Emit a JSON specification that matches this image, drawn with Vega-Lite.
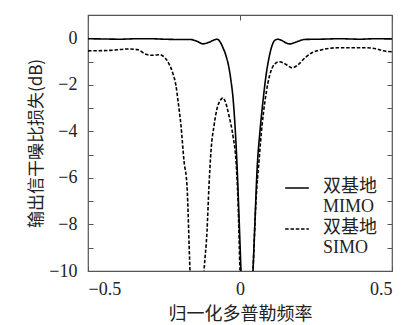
{
  "$schema": "https://vega.github.io/schema/vega-lite/v6.json",
  "autosize": "none",
  "width": 304,
  "height": 256,
  "padding": {"left": 88, "top": 15, "right": 18, "bottom": 54},
  "background": "white",
  "config": {
    "view": {"stroke": "#555555", "strokeWidth": 1.2},
    "font": "Liberation Serif, Noto Sans CJK SC",
    "axis": {
      "domain": false,
      "grid": false,
      "tickColor": "#555555",
      "tickSize": -5,
      "labelFont": "Liberation Serif",
      "labelFontSize": 17,
      "labelColor": "#222222",
      "titleFont": "Noto Sans CJK SC",
      "titleFontWeight": "normal",
      "titleFontSize": 18,
      "titleColor": "#222222"
    }
  },
  "data": {
    "values": [
      {"x": -0.5, "y": -0.02, "series": "MIMO"},
      {"x": -0.45, "y": -0.03, "series": "MIMO"},
      {"x": -0.3947, "y": -0.04, "series": "MIMO"},
      {"x": -0.34, "y": -0.02, "series": "MIMO"},
      {"x": -0.2961, "y": -0.02, "series": "MIMO"},
      {"x": -0.25, "y": -0.04, "series": "MIMO"},
      {"x": -0.2138, "y": -0.05, "series": "MIMO"},
      {"x": -0.1645, "y": -0.05, "series": "MIMO"},
      {"x": -0.1414, "y": -0.13, "series": "MIMO"},
      {"x": -0.1217, "y": -0.24, "series": "MIMO"},
      {"x": -0.102, "y": -0.17, "series": "MIMO"},
      {"x": -0.0822, "y": -0.06, "series": "MIMO"},
      {"x": -0.0757, "y": -0.04, "series": "MIMO"},
      {"x": -0.0658, "y": -0.15, "series": "MIMO"},
      {"x": -0.0559, "y": -0.41, "series": "MIMO"},
      {"x": -0.0461, "y": -0.75, "series": "MIMO"},
      {"x": -0.0362, "y": -1.27, "series": "MIMO"},
      {"x": -0.0296, "y": -1.83, "series": "MIMO"},
      {"x": -0.023, "y": -2.56, "series": "MIMO"},
      {"x": -0.0164, "y": -3.76, "series": "MIMO"},
      {"x": -0.0099, "y": -5.4, "series": "MIMO"},
      {"x": -0.0033, "y": -7.63, "series": "MIMO"},
      {"x": 0.0033, "y": -10, "series": "MIMO"},
      {"x": 0.023, "y": -16, "series": "MIMO"},
      {"x": 0.0428, "y": -10, "series": "MIMO"},
      {"x": 0.0493, "y": -7.85, "series": "MIMO"},
      {"x": 0.0559, "y": -5.7, "series": "MIMO"},
      {"x": 0.0658, "y": -3.98, "series": "MIMO"},
      {"x": 0.0757, "y": -2.69, "series": "MIMO"},
      {"x": 0.0855, "y": -1.61, "series": "MIMO"},
      {"x": 0.0954, "y": -0.84, "series": "MIMO"},
      {"x": 0.1053, "y": -0.32, "series": "MIMO"},
      {"x": 0.1151, "y": -0.08, "series": "MIMO"},
      {"x": 0.125, "y": -0.04, "series": "MIMO"},
      {"x": 0.1382, "y": -0.1, "series": "MIMO"},
      {"x": 0.1513, "y": -0.2, "series": "MIMO"},
      {"x": 0.1645, "y": -0.24, "series": "MIMO"},
      {"x": 0.1809, "y": -0.18, "series": "MIMO"},
      {"x": 0.1974, "y": -0.1, "series": "MIMO"},
      {"x": 0.2138, "y": -0.05, "series": "MIMO"},
      {"x": 0.2632, "y": -0.04, "series": "MIMO"},
      {"x": 0.3289, "y": -0.02, "series": "MIMO"},
      {"x": 0.3947, "y": -0.04, "series": "MIMO"},
      {"x": 0.4441, "y": -0.02, "series": "MIMO"},
      {"x": 0.5, "y": -0.03, "series": "MIMO"},

      {"x": -0.5, "y": -0.54, "series": "SIMO"},
      {"x": -0.4276, "y": -0.52, "series": "SIMO"},
      {"x": -0.3684, "y": -0.46, "series": "SIMO"},
      {"x": -0.3355, "y": -0.49, "series": "SIMO"},
      {"x": -0.3125, "y": -0.67, "series": "SIMO"},
      {"x": -0.2895, "y": -0.73, "series": "SIMO"},
      {"x": -0.2632, "y": -0.71, "series": "SIMO"},
      {"x": -0.2467, "y": -0.84, "series": "SIMO"},
      {"x": -0.2336, "y": -1.1, "series": "SIMO"},
      {"x": -0.2204, "y": -1.53, "series": "SIMO"},
      {"x": -0.2105, "y": -2.04, "series": "SIMO"},
      {"x": -0.2039, "y": -2.69, "series": "SIMO"},
      {"x": -0.1941, "y": -3.76, "series": "SIMO"},
      {"x": -0.1842, "y": -5.27, "series": "SIMO"},
      {"x": -0.1743, "y": -6.35, "series": "SIMO"},
      {"x": -0.1645, "y": -10, "series": "SIMO"},
      {"x": -0.1414, "y": -16, "series": "SIMO"},
      {"x": -0.1184, "y": -10, "series": "SIMO"},
      {"x": -0.1086, "y": -8.3, "series": "SIMO"},
      {"x": -0.102, "y": -6.34, "series": "SIMO"},
      {"x": -0.0954, "y": -4.84, "series": "SIMO"},
      {"x": -0.0855, "y": -3.76, "series": "SIMO"},
      {"x": -0.0757, "y": -3.03, "series": "SIMO"},
      {"x": -0.0658, "y": -2.69, "series": "SIMO"},
      {"x": -0.0559, "y": -2.56, "series": "SIMO"},
      {"x": -0.0493, "y": -2.69, "series": "SIMO"},
      {"x": -0.0362, "y": -3.33, "series": "SIMO"},
      {"x": -0.023, "y": -4.2, "series": "SIMO"},
      {"x": -0.0132, "y": -5.27, "series": "SIMO"},
      {"x": -0.0066, "y": -6.99, "series": "SIMO"},
      {"x": 0.0, "y": -10, "series": "SIMO"},
      {"x": 0.0214, "y": -16, "series": "SIMO"},
      {"x": 0.0428, "y": -10, "series": "SIMO"},
      {"x": 0.0526, "y": -7.0, "series": "SIMO"},
      {"x": 0.0625, "y": -5.27, "series": "SIMO"},
      {"x": 0.0724, "y": -3.76, "series": "SIMO"},
      {"x": 0.0822, "y": -2.69, "series": "SIMO"},
      {"x": 0.0921, "y": -1.91, "series": "SIMO"},
      {"x": 0.102, "y": -1.4, "series": "SIMO"},
      {"x": 0.1151, "y": -1.1, "series": "SIMO"},
      {"x": 0.1283, "y": -1.01, "series": "SIMO"},
      {"x": 0.1414, "y": -1.05, "series": "SIMO"},
      {"x": 0.1579, "y": -1.18, "series": "SIMO"},
      {"x": 0.1711, "y": -1.27, "series": "SIMO"},
      {"x": 0.1908, "y": -1.14, "series": "SIMO"},
      {"x": 0.2138, "y": -0.84, "series": "SIMO"},
      {"x": 0.2368, "y": -0.62, "series": "SIMO"},
      {"x": 0.2697, "y": -0.49, "series": "SIMO"},
      {"x": 0.3191, "y": -0.41, "series": "SIMO"},
      {"x": 0.3684, "y": -0.41, "series": "SIMO"},
      {"x": 0.4178, "y": -0.41, "series": "SIMO"},
      {"x": 0.4474, "y": -0.45, "series": "SIMO"},
      {"x": 0.4704, "y": -0.54, "series": "SIMO"},
      {"x": 0.5, "y": -0.58, "series": "SIMO"}
    ]
  },
  "layer": [
    {
      "mark": {"type": "line", "clip": true, "color": "black", "strokeWidth": 1.6, "interpolate": "monotone"},
      "encoding": {
        "x": {
          "field": "x", "type": "quantitative",
          "scale": {"domain": [-0.5, 0.5], "nice": false, "zero": false},
          "axis": {"orient": "bottom", "values": [-0.5, 0, 0.5], "format": "~g", "labelFont": "Liberation Serif", "labelFontSize": 18, "labelPadding": 14, "title": "归一化多普勒频率", "titlePadding": 7}
        },
        "y": {
          "field": "y", "type": "quantitative",
          "scale": {"domain": [-10, 1], "nice": false, "zero": false},
          "axis": {
            "orient": "left",
            "values": [-10, -9, -8, -7, -6, -5, -4, -3, -2, -1, 0],
            "labelExpr": "datum.value % 2 == 0 ? datum.label : ''",
            "labelFont": "Liberation Serif",
            "labelFontSize": 18,
            "labelPadding": 16,
            "title": "输出信干噪比损失(dB)",
            "titleFontSize": 17,
            "titlePadding": 3
          }
        },
        "strokeDash": {
          "field": "series", "type": "nominal",
          "scale": {"domain": ["MIMO", "SIMO"], "range": [[1, 0], [3.5, 1.8]]},
          "legend": {
            "title": null,
            "orient": "none",
            "legendX": 196,
            "legendY": 160,
            "symbolType": "stroke",
            "symbolSize": 560,
            "symbolStrokeWidth": 1.6,
            "symbolStrokeColor": "black",
            "labelExpr": "['双基地', datum.label]",
            "labelFont": "Liberation Serif, Noto Sans CJK SC",
            "labelFontSize": 18,
            "labelColor": "#222222",
            "labelOffset": 13,
            "labelBaseline": "top",
            "rowPadding": -1,
            "encode": {"labels": {"update": {"dy": {"value": -10}}}}
          }
        }
      }
    },
    {
      "mark": {"type": "line", "clip": true, "strokeOpacity": 0},
      "encoding": {
        "x": {
          "field": "x", "type": "quantitative",
          "scale": {"domain": [-0.5, 0.5], "nice": false, "zero": false},
          "axis": {"orient": "top", "values": [-0.5, 0, 0.5], "labels": false, "title": null}
        },
        "y": {
          "field": "y", "type": "quantitative",
          "scale": {"domain": [-10, 1], "nice": false, "zero": false},
          "axis": {"orient": "right", "values": [-10, -9, -8, -7, -6, -5, -4, -3, -2, -1, 0], "labels": false, "title": null}
        },
        "detail": {"field": "series", "type": "nominal"}
      }
    }
  ],
  "resolve": {"axis": {"x": "independent", "y": "independent"}}
}
